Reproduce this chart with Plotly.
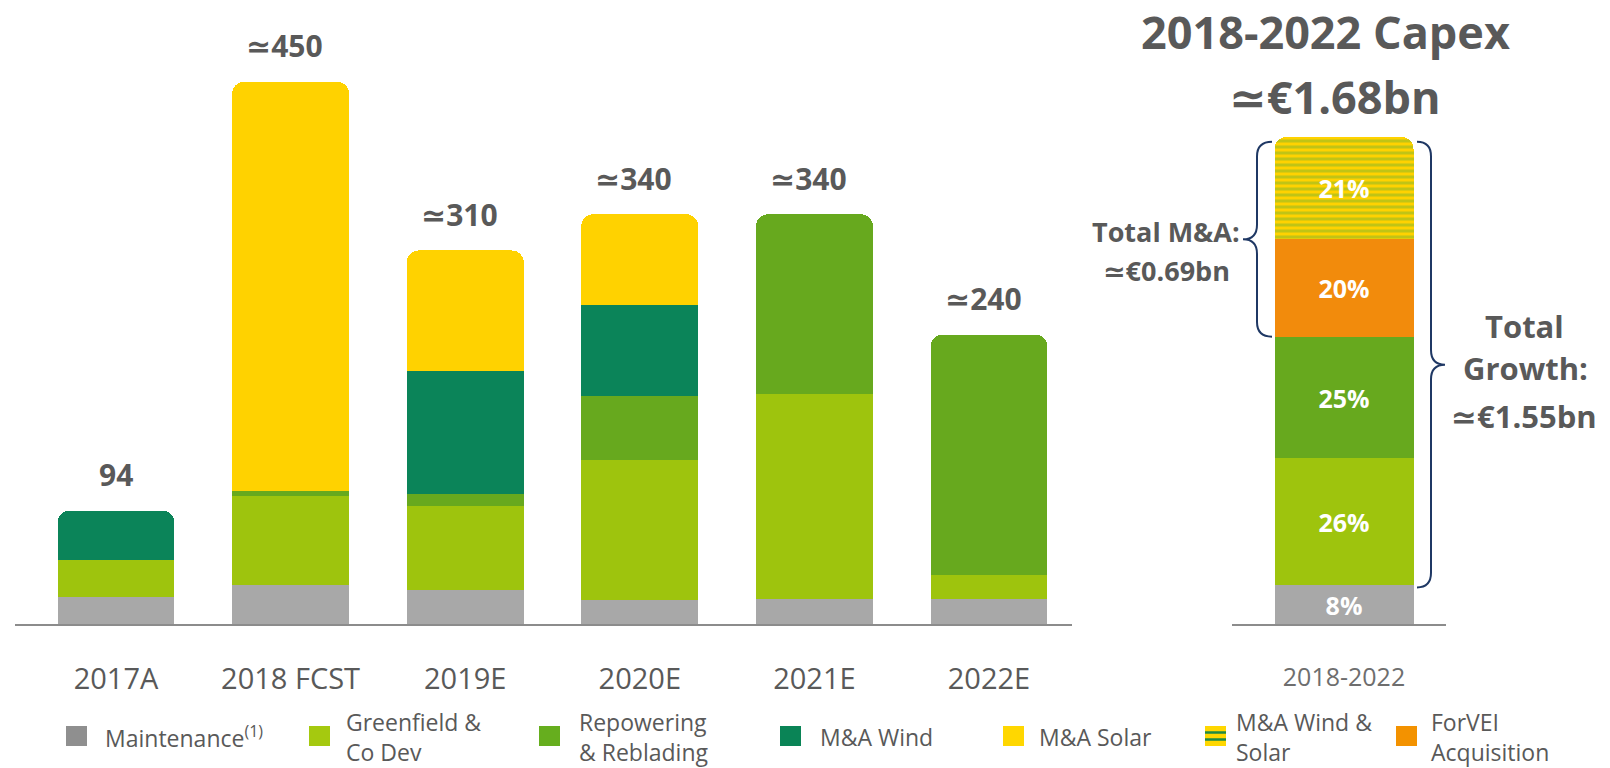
import plotly.graph_objects as go

W, H = 1610, 768

# ---- yearly capex (EUR m), stacked by type ----
categories = ["2017A", "2018 FCST", "2019E", "2020E", "2021E", "2022E"]
maintenance = [22, 32, 28, 20, 21, 21]
greenfield = [31, 74, 70, 116, 170, 20]
repowering = [None, 4, 10, 53, 149, 199]
ma_wind = [41, None, 102, 76, None, None]
ma_solar = [None, 340, 100, 75, None, None]
approx_flag = [False, True, True, True, True, True]

# ---- 2018-2022 cumulative mix (%) ----
period_label = ["2018-2022"]
mix_maintenance = [8]
mix_greenfield = [26]
mix_repowering = [25]
mix_forvei = [20]
mix_ma_wind_solar = [21]

legend_labels = [
    "Maintenance<sup>(1)</sup>",
    "Greenfield &<br>Co Dev",
    "Repowering<br>& Reblading",
    "M&A Wind",
    "M&A Solar",
    "M&A Wind &<br>Solar",
    "ForVEI<br>Acquisition",
]

# ---- styling ----
FONT = "Open Sans, DejaVu Sans, sans-serif"
TXT = "#595959"
C_MAINT = "#A8A8A8"
C_GREEN = "#9EC40D"
C_REPOW = "#67A91E"
C_WIND = "#0B8459"
C_SOLAR = "#FFD200"
C_FORVEI = "#F28B0C"
C_STRIPE = "#7FB52C"
C_BRACE = "#1F3864"


def px(x):
    return x / W


def py(y):
    return 1 - y / H


BASE = 624  # pixel row of both baselines
fig = go.Figure()

bar_w = 0.67
left_series = [
    ("Maintenance", maintenance, C_MAINT),
    ("Greenfield & Co Dev", greenfield, C_GREEN),
    ("Repowering & Reblading", repowering, C_REPOW),
    ("M&A Wind", ma_wind, C_WIND),
    ("M&A Solar", ma_solar, C_SOLAR),
]
for name, vals, col in left_series:
    fig.add_trace(go.Bar(
        x=categories, y=vals, name=name, marker=dict(color=col, line=dict(width=0)),
        width=bar_w, xaxis="x", yaxis="y", showlegend=False, hoverinfo="skip",
    ))

right_series = [
    ("Maintenance", mix_maintenance, C_MAINT, None),
    ("Greenfield & Co Dev", mix_greenfield, C_GREEN, None),
    ("Repowering & Reblading", mix_repowering, C_REPOW, None),
    ("ForVEI Acquisition", mix_forvei, C_FORVEI, None),
    ("M&A Wind & Solar", mix_ma_wind_solar, C_SOLAR,
     dict(shape="-", fgcolor=C_STRIPE, size=6, solidity=0.5, fillmode="overlay")),
]
for name, vals, col, pat in right_series:
    marker = dict(color=col, line=dict(width=0))
    if pat:
        marker["pattern"] = pat
    fig.add_trace(go.Bar(
        x=period_label, y=vals, name=name, marker=marker, width=0.7,
        xaxis="x2", yaxis="y2", showlegend=False, hoverinfo="skip",
        text=[f"{v}%" for v in vals], textposition="inside",
        insidetextanchor="middle", textangle=0,
        textfont=dict(family=FONT, size=25, color="white", weight="bold"),
    ))

# totals above the yearly bars
totals = [sum(v or 0 for v in col) for col in zip(maintenance, greenfield, repowering, ma_wind, ma_solar)]
annotations = []
for cat, tot, approx in zip(categories, totals, approx_flag):
    annotations.append(dict(
        x=cat, y=tot, xref="x", yref="y", yshift=36, yanchor="middle", xshift=-6 if approx else 0,
        text=("≃" if approx else "") + str(tot), showarrow=False,
        font=dict(family=FONT, size=30, color=TXT, weight="bold"),
    ))


# right-hand title and brace captions
def note(text, x, y, size, anchor="center", bold=True):
    annotations.append(dict(
        x=px(x), y=py(y), xref="paper", yref="paper", xanchor=anchor, yanchor="middle",
        text=text, showarrow=False,
        font=dict(family=FONT, size=size, color=TXT, weight="bold" if bold else "normal"),
    ))


note("2018-2022 Capex", 1325, 32, 45)
note("≃€1.68bn", 1335, 96, 45)
note("Total M&A:", 1166, 232, 27)
note("≃€0.69bn", 1166, 271, 27)
note("Total", 1524, 326, 31)
note("Growth:", 1525, 368, 31)
note("≃€1.55bn", 1524, 416, 31)

# legend drawn as squares plus captions
shapes = []
leg_sq_x = [66, 309, 539, 780, 1003, 1205, 1396]
leg_tx_x = [103, 344, 577, 818, 1037, 1234, 1429]
leg_cols = ["#8F8F8F", "#A5C90F", "#66AE1E", "#0A8456", "#FFD700", "#FFD700", "#F39200"]
sq_top, sq_bot = 726, 746
for lab, sx, tx, col in zip(legend_labels, leg_sq_x, leg_tx_x, leg_cols):
    shapes.append(dict(type="rect", xref="paper", yref="paper",
                       x0=px(sx), x1=px(sx + 21), y0=py(sq_bot), y1=py(sq_top),
                       fillcolor=col, line=dict(width=0)))
    annotations.append(dict(
        x=px(tx), y=py(737), xref="paper", yref="paper", xanchor="left", yanchor="middle",
        text=lab, showarrow=False, align="left",
        font=dict(family=FONT, size=23, color=TXT),
    ))
# stripes on the wind & solar legend square
for yy in (732.5, 739.5):
    shapes.append(dict(type="line", xref="paper", yref="paper",
                       x0=px(1205), x1=px(1226), y0=py(yy), y1=py(yy),
                       line=dict(color="#1E8A45", width=2.5)))


def brace(x_end, x_spine, x_tip, y_top, y_bot, r):
    ym = (y_top + y_bot) / 2
    xe, xs, xt = px(x_end), px(x_spine), px(x_tip)
    return (f"M {xe},{y_top} Q {xs},{y_top} {xs},{y_top - r} "
            f"L {xs},{ym + r} Q {xs},{ym} {xt},{ym} "
            f"Q {xs},{ym} {xs},{ym - r} L {xs},{y_bot + r} "
            f"Q {xs},{y_bot} {xe},{y_bot}")


ma_share_bottom = mix_maintenance[0] + mix_greenfield[0] + mix_repowering[0]
growth_bottom = mix_maintenance[0]
shapes.append(dict(type="path", xref="paper", yref="y2",
                   path=brace(1272, 1257, 1243, 99, ma_share_bottom, 3),
                   line=dict(color=C_BRACE, width=2)))
shapes.append(dict(type="path", xref="paper", yref="y2",
                   path=brace(1417, 1431, 1445, 99, growth_bottom - 0.5, 3),
                   line=dict(color=C_BRACE, width=2)))

# axis geometry
k_left = 174.6
x_left0, x_left1 = 14.7, 1072
r0 = -(116 - x_left0) / k_left
r1 = 5 + (x_left1 - 989) / k_left
k_right = 139 / 0.7
x_r0, x_r1 = 1232, 1446
rr0 = -(1344 - x_r0) / k_right
rr1 = (x_r1 - 1344) / k_right

y_dom = [py(BASE), 1]
fig.update_layout(
    width=W, height=H,
    margin=dict(l=0, r=0, t=0, b=0),
    paper_bgcolor="white", plot_bgcolor="white",
    barmode="stack", barcornerradius=12,
    uniformtext=dict(minsize=25, mode="show"),
    showlegend=False,
    xaxis=dict(domain=[px(x_left0), px(x_left1)], range=[r0, r1], type="category",
               showline=True, linecolor="#8C8C8C", linewidth=2, showgrid=False,
               zeroline=False, ticks="", ticklabelstandoff=28,
               tickfont=dict(family=FONT, size=29, color=TXT), anchor="y"),
    yaxis=dict(domain=y_dom, range=[0, BASE / 1.205], visible=False),
    xaxis2=dict(domain=[px(x_r0), px(x_r1)], range=[rr0, rr1], type="category",
                showline=True, linecolor="#8C8C8C", linewidth=2, showgrid=False,
                zeroline=False, ticks="", ticklabelstandoff=30,
                tickfont=dict(family=FONT, size=25, color="#6E6E6E"), anchor="y2"),
    yaxis2=dict(domain=y_dom, range=[0, BASE / 4.87], visible=False),
    annotations=annotations,
    shapes=shapes,
)

fig.write_html("out.html")
